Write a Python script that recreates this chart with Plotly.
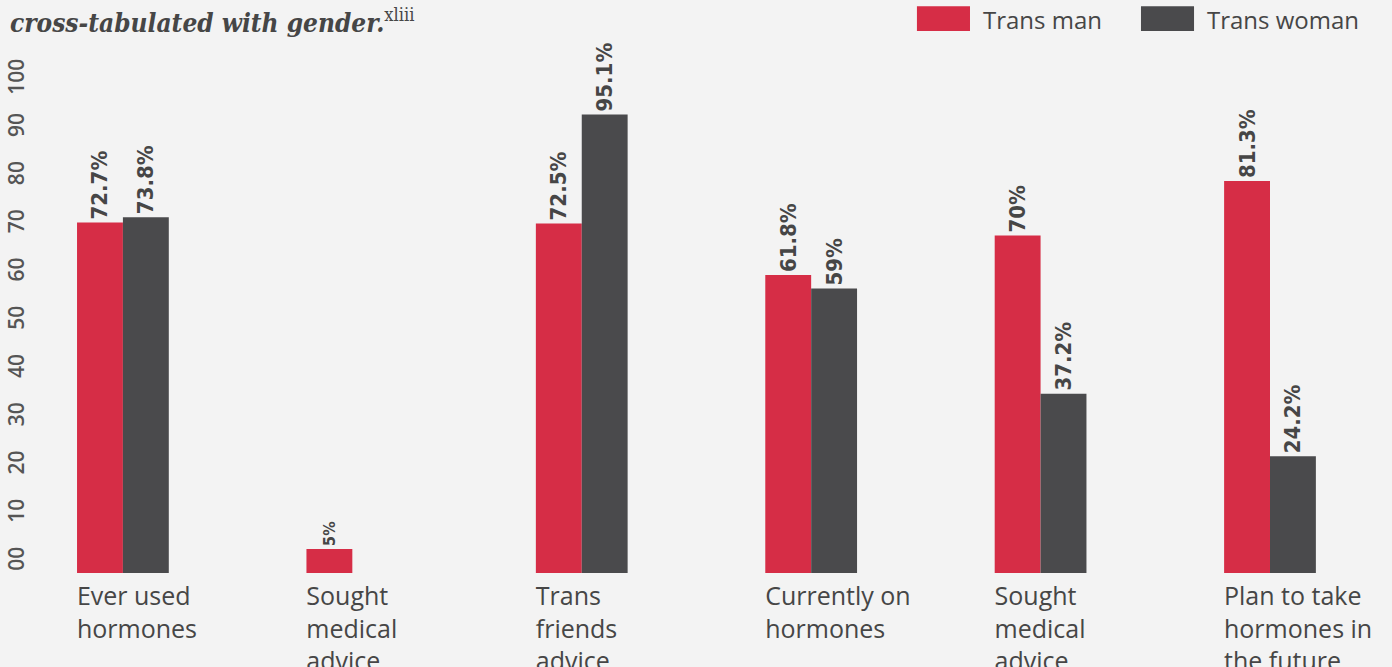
import plotly.graph_objects as go

# Hormone use, cross-tabulated with gender
categories = [
    "Ever used<br>hormones",
    "Sought<br>medical<br>advice",
    "Trans<br>friends<br>advice",
    "Currently on<br>hormones",
    "Sought<br>medical<br>advice",
    "Plan to take<br>hormones in<br>the future",
]
series_names = ["Trans man", "Trans woman"]
trans_man = [72.7, 5, 72.5, 61.8, 70, 81.3]
trans_woman = [73.8, None, 95.1, 59, 37.2, 24.2]
y_tick_values = [0, 10, 20, 30, 40, 50, 60, 70, 80, 90, 100]
y_tick_labels = ["00", "10", "20", "30", "40", "50", "60", "70", "80", "90", "100"]

RED = "#d62d46"
DARK = "#4a4a4c"
TEXT = "#464646"
BG = "#f3f3f3"
LABEL_FONT = "Liberation Sans Narrow, DejaVu Sans Condensed, Roboto, sans-serif"
BODY_FONT = "Open Sans, Noto Sans, sans-serif"

positions = list(range(len(categories)))


def pct_text(values):
    return [None if v is None else f"{v:g}%" for v in values]


def label_sizes(values):
    # the tiny bar gets a smaller label
    return [22 if v is None or v >= 10 else 16 for v in values]


fig = go.Figure()
for name, vals, color in [
    (series_names[0], trans_man, RED),
    (series_names[1], trans_woman, DARK),
]:
    fig.add_trace(
        go.Bar(
            x=positions,
            y=vals,
            name=name,
            marker=dict(color=color, line=dict(width=0)),
            text=pct_text(vals),
            textposition="outside",
            textangle=-90,
            constraintext="none",
            textfont=dict(family=LABEL_FONT, size=label_sizes(vals), color=TEXT, weight="bold"),
            cliponaxis=False,
            showlegend=False,
        )
    )

# legend drawn as swatches + labels across the top right
legend_items = [
    (series_names[0], RED, 0.6536, 0.6927),
    (series_names[1], DARK, 0.8187, 0.8578),
]
shapes = []
annotations = []
for name, color, x0, x1 in legend_items:
    shapes.append(
        dict(type="rect", xref="paper", yref="paper", x0=x0, x1=x1, y0=1.113, y1=1.164,
             fillcolor=color, line=dict(width=0))
    )
    annotations.append(
        dict(text=name, xref="paper", yref="paper", x=x1 + 0.0081, y=1.136,
             xanchor="left", yanchor="middle", showarrow=False,
             font=dict(family=BODY_FONT, size=24, color=TEXT))
    )

fig.update_layout(
    width=1392,
    height=667,
    paper_bgcolor=BG,
    plot_bgcolor=BG,
    margin=dict(l=30, r=5, t=86, b=94, autoexpand=False),
    barmode="group",
    bargap=0.6,
    bargroupgap=0,
    title=dict(
        text="<b><i>cross-tabulated with gender.</i></b><sup>xliii</sup>",
        x=0.0072,
        xanchor="left",
        xref="container",
        y=0.966,
        yanchor="middle",
        yref="container",
        font=dict(family="DejaVu Serif Condensed, DejaVu Serif, serif", size=26, color=TEXT),
    ),
    shapes=shapes,
    annotations=annotations,
    xaxis=dict(
        range=[-0.405, 5.51],
        tickvals=positions,
        ticktext=categories,
        ticklabelposition="outside right",
        ticklabelshift=-46,
        ticklabelstandoff=6,
        tickfont=dict(family=BODY_FONT, size=25, color=TEXT),
        showgrid=False,
        zeroline=False,
        showline=False,
        ticks="",
        automargin=False,
    ),
    yaxis=dict(
        range=[0, 101],
        tickvals=y_tick_values,
        ticktext=y_tick_labels,
        tickangle=-90,
        ticklabelshift=-11,
        ticklabelstandoff=1,
        tickfont=dict(family=BODY_FONT, size=21, color="#555555", weight=600),
        showgrid=False,
        zeroline=False,
        showline=False,
        ticks="",
        automargin=False,
    ),
    font=dict(family=BODY_FONT, color=TEXT),
)

fig.write_html("out.html")
